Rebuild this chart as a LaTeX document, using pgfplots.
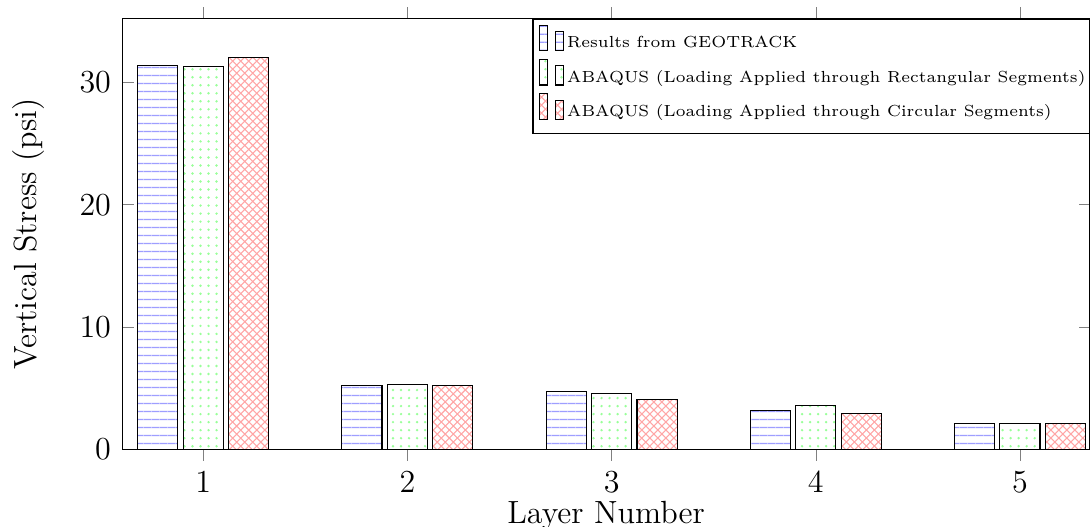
\documentclass[border=0pt,12pt]{standalone}
\usepackage{pgfplots}
\pgfplotsset{compat=1.18}
\usetikzlibrary{patterns}
\pgfdeclarepatterninherentlycolored{bluelines}{\pgfpointorigin}{\pgfqpoint{3pt}{3pt}}{\pgfqpoint{3pt}{3pt}}{%
  \definecolor{plw}{rgb}{1,1,1}%
  \definecolor{plb}{rgb}{0.62,0.62,1}%
  \pgfsetfillcolor{plw}%
  \pgfpathrectangle{\pgfqpoint{-0.1pt}{-0.1pt}}{\pgfqpoint{3.2pt}{3.2pt}}%
  \pgfusepath{fill}%
  \pgfsetfillcolor{plb}%
  \pgfpathrectangle{\pgfqpoint{-0.1pt}{1.25pt}}{\pgfqpoint{3.2pt}{0.5pt}}%
  \pgfusepath{fill}%
}
\pgfplotsset{/pgfplots/ybar legend/.style={/pgfplots/legend image code/.code={%
  \path (-3.4pt,0pt);%
  \draw[##1,/tikz/.cd,bar width=3pt,yshift=-2.4pt,bar shift=0pt] plot coordinates {(0cm,9.6pt) (2*\pgfplotbarwidth,7.2pt)};}}}
\begin{document}
\begin{tikzpicture}
\begin{axis}[
  scale only axis, width=362pt, height=161.1pt,
  ybar=2pt, bar width=15pt,
  xmin=0.603, xmax=5.343, ymin=0, ymax=35.2,
  xtick={1,2,3,4,5}, ytick={0,10,20,30},
  xtick align=outside,
  xlabel={Layer Number}, ylabel={Vertical Stress (psi)},
  xlabel style={yshift=5pt},
  ylabel shift=5pt,
  legend style={at={(1,1)}, anchor=north east, draw=black, font=\tiny, inner xsep=0.2pt,
    nodes={inner xsep=1.3pt, inner ysep=2.35pt}, cells={anchor=west}},
]
\addplot[draw=black, pattern=bluelines] coordinates {(1,31.4) (2,5.2) (3,4.7) (4,3.2) (5,2.1)};
\addlegendentry{Results from GEOTRACK}
\addplot[draw=black, pattern=dots, pattern color=green!40] coordinates {(1,31.3) (2,5.3) (3,4.6) (4,3.6) (5,2.1)};
\addlegendentry{ABAQUS (Loading Applied through Rectangular Segments)}
\addplot[draw=black, pattern=crosshatch, pattern color=red!35] coordinates {(1,32.0) (2,5.2) (3,4.1) (4,2.9) (5,2.1)};
\addlegendentry{ABAQUS (Loading Applied through Circular Segments)}
\end{axis}
\pgfresetboundingbox
\path[use as bounding box] ([xshift=-45.7pt,yshift=-28.8pt]current axis.south west) rectangle ([yshift=7pt]current axis.north east);
\end{tikzpicture}
\end{document}
